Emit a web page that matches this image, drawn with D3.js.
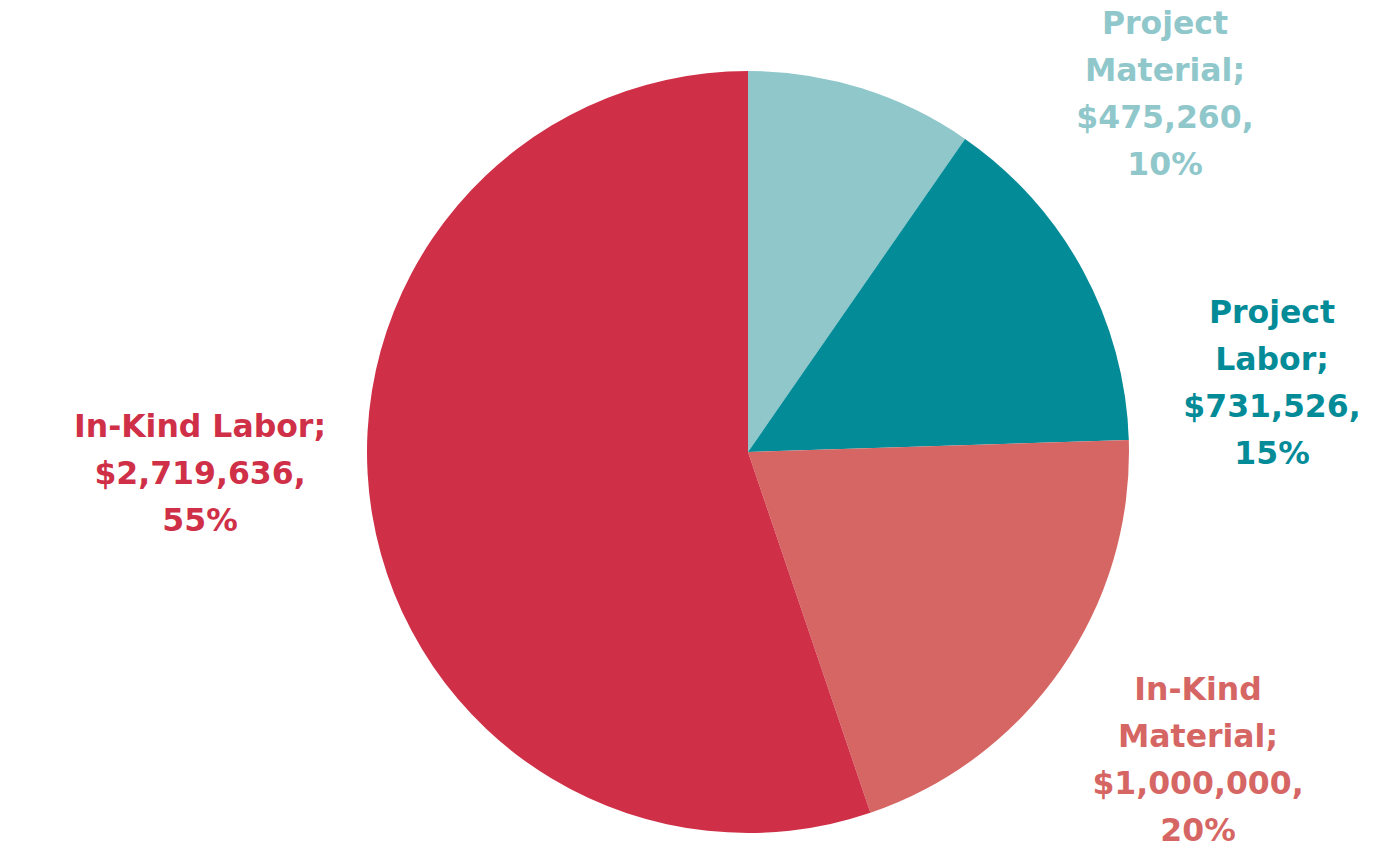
<!DOCTYPE html>
<html>
<head>
<meta charset="utf-8">
<script src="https://cdn.jsdelivr.net/npm/d3@7"></script>
<style>
  html, body { margin: 0; padding: 0; background: #ffffff; }
  svg { display: block; }
  .lbl { font-family: "DejaVu Sans", sans-serif; font-weight: bold; font-size: 31.5px; }
</style>
</head>
<body>
<svg id="chart" width="1384" height="865"></svg>
<script>
// Project cost breakdown
const categories = ["Project Material", "Project Labor", "In-Kind Material", "In-Kind Labor"];
const values = [475260, 731526, 1000000, 2719636];
const colors = ["#8FC7CB", "#038B98", "#D66664", "#CF3047"];
// wrapped label lines and label block centres (x, y of first baseline)
const labelLines = [
  ["Project", "Material;", "$475,260,", "10%"],
  ["Project", "Labor;", "$731,526,", "15%"],
  ["In-Kind", "Material;", "$1,000,000,", "20%"],
  ["In-Kind Labor;", "$2,719,636,", "55%"]
];
const labelAnchors = [[1165, 34], [1272, 323], [1198, 700], [200, 437]];

const svg = d3.select("#chart");
const cx = 748, cy = 452, r = 381;

const pie = d3.pie().sort(null).value(d => d)(values);
const arc = d3.arc().innerRadius(0).outerRadius(r);

const g = svg.append("g").attr("transform", `translate(${cx},${cy})`);
g.selectAll("path")
  .data(pie)
  .join("path")
  .attr("d", arc)
  .attr("fill", (d, i) => colors[i]);

const lineH = 47;
const labels = svg.selectAll("text.lbl")
  .data(pie)
  .join("text")
  .attr("class", "lbl")
  .attr("text-anchor", "middle")
  .attr("fill", (d, i) => colors[i]);

labels.each(function(d, i) {
  const t = d3.select(this);
  labelLines[i].forEach((line, k) => {
    t.append("tspan")
      .attr("x", labelAnchors[i][0])
      .attr("y", labelAnchors[i][1] + k * lineH)
      .text(line);
  });
});
</script>
</body>
</html>
